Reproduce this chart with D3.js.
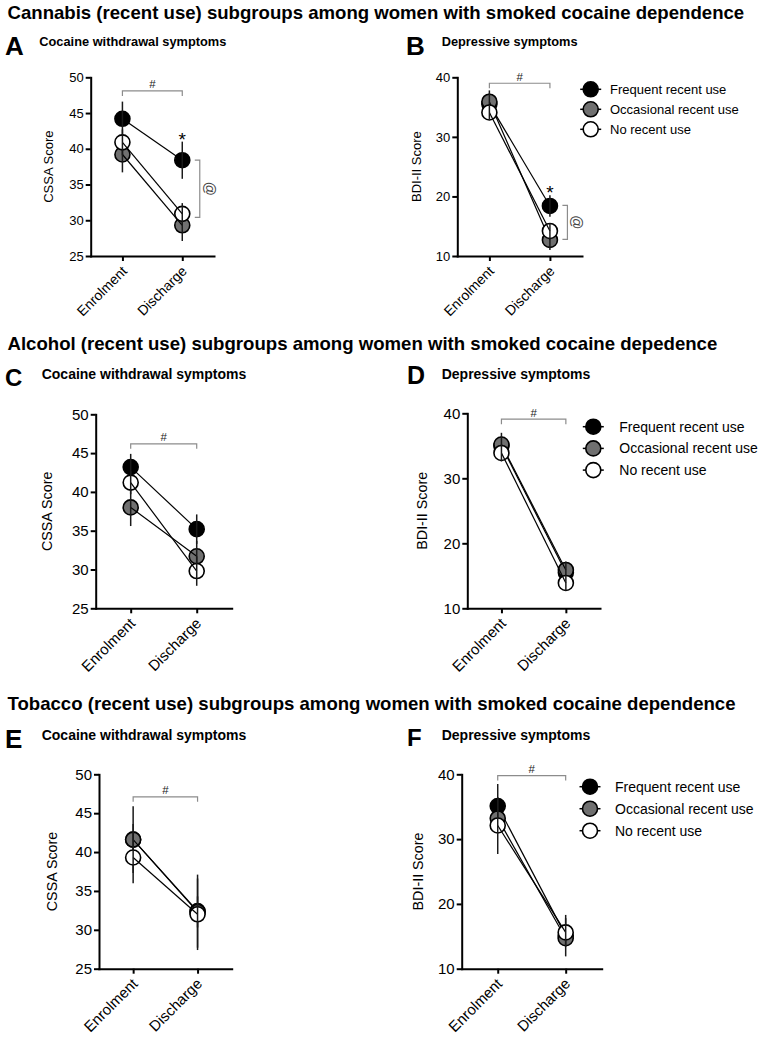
<!DOCTYPE html>
<html>
<head>
<meta charset="utf-8">
<script src="https://cdn.jsdelivr.net/npm/d3@7"></script>
<style>
  body { margin: 0; background: #fff; }
  svg { display: block; font-family: "Liberation Sans", Arial, sans-serif; }
</style>
</head>
<body>
<svg id="chart" width="761" height="1040"></svg>
<script>
// data (mean, SEM), rows = groups, cols = timepoints
const timepoints = ["Enrolment", "Discharge"];
const groups = ["Frequent recent use", "Occasional recent use", "No recent use"];
const groupFill = ["#000000", "#707070", "#ffffff"];

const sectionTitles = [
  "Cannabis (recent use) subgroups among women with smoked cocaine dependence",
  "Alcohol (recent use) subgroups among women with smoked cocaine depedence",
  "Tobacco (recent use) subgroups among women with smoked cocaine dependence"
];
const panelLetters = ["A", "B", "C", "D", "E", "F"];
const panelTitles = ["Cocaine withdrawal symptoms", "Depressive symptoms"];

const cssaTicks = [25, 30, 35, 40, 45, 50];
const bdiTicks = [10, 20, 30, 40];

const cannabisCssa = [[44.2, 38.4], [39.2, 29.3], [40.9, 30.9]];
const cannabisCssaSem = [[2.4, 2.6], [2.5, 2.2], [1.8, 1.5]];
const cannabisBdi = [[35.5, 18.4], [35.9, 12.7], [34.1, 14.2]];
const cannabisBdiSem = [[1.8, 1.8], [1.9, 1.7], [1.2, 1.3]];

const alcoholCssa = [[43.2, 35.2], [38.0, 31.7], [41.2, 29.8]];
const alcoholCssaSem = [[1.7, 1.9], [2.4, 2.0], [1.5, 1.9]];
const alcoholBdi = [[35.0, 15.5], [35.2, 15.9], [33.9, 13.9]];
const alcoholBdiSem = [[1.5, 1.3], [1.8, 1.3], [1.3, 1.2]];

const tobaccoCssa = [[41.6, 32.4], [41.6, 32.3], [39.3, 32.0]];
const tobaccoCssaSem = [[4.3, 4.7], [2.0, 2.0], [3.3, 4.6]];
const tobaccoBdi = [[35.1, 15.1], [33.2, 14.7], [32.1, 15.6]];
const tobaccoBdiSem = [[3.4, 3.2], [1.5, 1.2], [4.4, 2.2]];

// significance marks: "#" bracket level, "@" bracket span at discharge
const hashLevels = [48.1, 39.0, 46.2, 39.1, 47.1, 39.8];
const atSpans = [[38.4, 30.4], [18.5, 12.8], null, null, null, null];
const starOnFrequent = [true, true, false, false, false, false];

const panels = [
  { mean: cannabisCssa, sem: cannabisCssaSem, ticks: cssaTicks, ylab: "CSSA Score",
    ax: 90.7, top: 77.3, bot: 256, xEnd: 214, fs: 13, xfs: 14, yfs: 13, labDx: 42.7,
    lx: 5, ly: 55, lfs: 26, sx: 39.3, sy: 45.7, sfs: 12.8, legend: null },
  { mean: cannabisBdi, sem: cannabisBdiSem, ticks: bdiTicks, ylab: "BDI-II Score",
    ax: 457.3, top: 77.3, bot: 256, xEnd: 582, fs: 13, xfs: 14, yfs: 13, labDx: 40.6,
    lx: 406, ly: 55, lfs: 26, sx: 441.7, sy: 45.7, sfs: 12.8,
    legend: { x: 590.7, y: 89.3, dy: 20, tx: 610, fs: 13 } },
  { mean: alcoholCssa, sem: alcoholCssaSem, ticks: cssaTicks, ylab: "CSSA Score",
    ax: 95.7, top: 414.3, bot: 608.3, xEnd: 231.7, fs: 15, xfs: 15, yfs: 14.3, labDx: 49,
    lx: 5, ly: 386, lfs: 24, sx: 41.7, sy: 379, sfs: 14, legend: null },
  { mean: alcoholBdi, sem: alcoholBdiSem, ticks: bdiTicks, ylab: "BDI-II Score",
    ax: 467.3, top: 413.3, bot: 608.3, xEnd: 600, fs: 15, xfs: 15, yfs: 14.3, labDx: 45.6,
    lx: 407, ly: 384, lfs: 25, sx: 441.7, sy: 379, sfs: 14,
    legend: { x: 593.3, y: 426.7, dy: 21.7, tx: 619.3, fs: 14 } },
  { mean: tobaccoCssa, sem: tobaccoCssaSem, ticks: cssaTicks, ylab: "CSSA Score",
    ax: 99, top: 774.3, bot: 968.7, xEnd: 231.7, fs: 15, xfs: 15, yfs: 14.3, labDx: 47.3,
    lx: 5, ly: 748, lfs: 26, sx: 41.7, sy: 740, sfs: 14, legend: null },
  { mean: tobaccoBdi, sem: tobaccoBdiSem, ticks: bdiTicks, ylab: "BDI-II Score",
    ax: 461.7, top: 774.3, bot: 968.7, xEnd: 601.7, fs: 15, xfs: 15, yfs: 14.3, labDx: 43.4,
    lx: 407, ly: 746, lfs: 24, sx: 441.7, sy: 740, sfs: 14,
    legend: { x: 590, y: 786.7, dy: 22, tx: 615, fs: 14 } }
];

const svg = d3.select("#chart");
const R = 7.5;

// section headings
const titleY = [19, 350, 710];
sectionTitles.forEach((t, i) => {
  svg.append("text")
    .attr("x", 7.5).attr("y", titleY[i])
    .attr("font-size", 18.6).attr("font-weight", "bold")
    .text(t);
});

panels.forEach((p, pi) => {
  const g = svg.append("g");

  g.append("text").attr("x", p.lx).attr("y", p.ly)
    .attr("font-size", p.lfs).attr("font-weight", "bold").text(panelLetters[pi]);
  g.append("text").attr("x", p.sx).attr("y", p.sy)
    .attr("font-size", p.sfs).attr("font-weight", "bold").text(panelTitles[pi % 2]);

  const x = d3.scalePoint().domain(timepoints).range([p.ax, p.xEnd]).padding(0.53);
  const y = d3.scaleLinear().domain(d3.extent(p.ticks)).range([p.bot, p.top]);

  const yAxis = g.append("g").attr("transform", `translate(${p.ax},0)`)
    .call(d3.axisLeft(y).tickValues(p.ticks).tickSize(5).tickSizeOuter(0).tickPadding(2));
  yAxis.selectAll("text").attr("font-size", p.fs).attr("font-family", null);
  const xAxis = g.append("g").attr("transform", `translate(0,${p.bot})`)
    .call(d3.axisBottom(x).tickSize(5).tickSizeOuter(0));
  xAxis.selectAll("text")
    .attr("font-size", p.xfs).attr("font-family", null)
    .attr("text-anchor", "end")
    .attr("y", 0).attr("dy", 0)
    .attr("transform", "translate(5,16) rotate(-45)");
  g.selectAll(".domain").attr("stroke-width", 2).attr("stroke-linecap", "square");
  g.selectAll(".tick line").attr("stroke-width", 2);

  g.append("text")
    .attr("transform", `translate(${p.ax - p.labDx},${(p.top + p.bot) / 2}) rotate(-90)`)
    .attr("text-anchor", "middle").attr("dy", "0.35em")
    .attr("font-size", p.yfs).text(p.ylab);

  // "#" bracket between timepoints
  const hy = y(hashLevels[pi]);
  const x0 = x(timepoints[0]), x1 = x(timepoints[1]);
  g.append("path")
    .attr("d", `M${x0},${hy + 5}V${hy}H${x1}V${hy + 5}`)
    .attr("fill", "none").attr("stroke", "#8c8c8c").attr("stroke-width", 1.2);
  g.append("text").attr("x", (x0 + x1) / 2).attr("y", hy - 2.5)
    .attr("text-anchor", "middle").attr("font-size", 11.5).attr("fill", "#222").text("#");

  // series
  p.mean.forEach((vals, gi) => {
    const pts = timepoints.map((t, ti) => [x(t), y(vals[ti])]);
    g.selectAll(null).data(timepoints).enter().append("circle")
      .attr("cx", t => x(t))
      .attr("cy", (t, ti) => y(vals[ti]))
      .attr("r", R)
      .attr("fill", groupFill[gi])
      .attr("stroke", "#000").attr("stroke-width", 1.6);
    g.append("path").attr("d", d3.line()(pts))
      .attr("fill", "none").attr("stroke", "#000").attr("stroke-width", 1.2);
    g.selectAll(null).data(timepoints).enter().append("line")
      .attr("x1", t => x(t)).attr("x2", t => x(t))
      .attr("y1", (t, ti) => y(vals[ti] - p.sem[gi][ti]))
      .attr("y2", (t, ti) => y(vals[ti] + p.sem[gi][ti]))
      .attr("stroke", "#1a1a1a").attr("stroke-width", 1.5);
  });

  if (starOnFrequent[pi]) {
    const top = y(p.mean[0][1] + p.sem[0][1]);
    g.append("text").attr("x", x1).attr("y", top + 4)
      .attr("text-anchor", "middle").attr("font-size", 19).text("*");
  }

  const span = atSpans[pi];
  if (span) {
    const bx = x1 + 17.5, ya = y(span[0]), yb = y(span[1]);
    g.append("path").attr("d", `M${bx - 5},${ya}H${bx}V${yb}H${bx - 5}`)
      .attr("fill", "none").attr("stroke", "#8c8c8c").attr("stroke-width", 1.2);
    g.append("text")
      .attr("transform", `translate(${bx + 5},${(ya + yb) / 2}) rotate(90)`)
      .attr("text-anchor", "middle").attr("font-size", 14).attr("fill", "#444").text("@");
  }

  if (p.legend) {
    const L = p.legend;
    groups.forEach((name, gi) => {
      const ly = L.y + gi * L.dy;
      g.append("line").attr("x1", L.x - 10.5).attr("x2", L.x + 10.5)
        .attr("y1", ly).attr("y2", ly).attr("stroke", "#000").attr("stroke-width", 1.5);
      g.append("circle").attr("cx", L.x).attr("cy", ly).attr("r", R)
        .attr("fill", groupFill[gi]).attr("stroke", "#000").attr("stroke-width", 1.6);
      g.append("text").attr("x", L.tx).attr("y", ly).attr("dy", "0.35em")
        .attr("font-size", L.fs).text(name);
    });
  }
});
</script>
</body>
</html>
